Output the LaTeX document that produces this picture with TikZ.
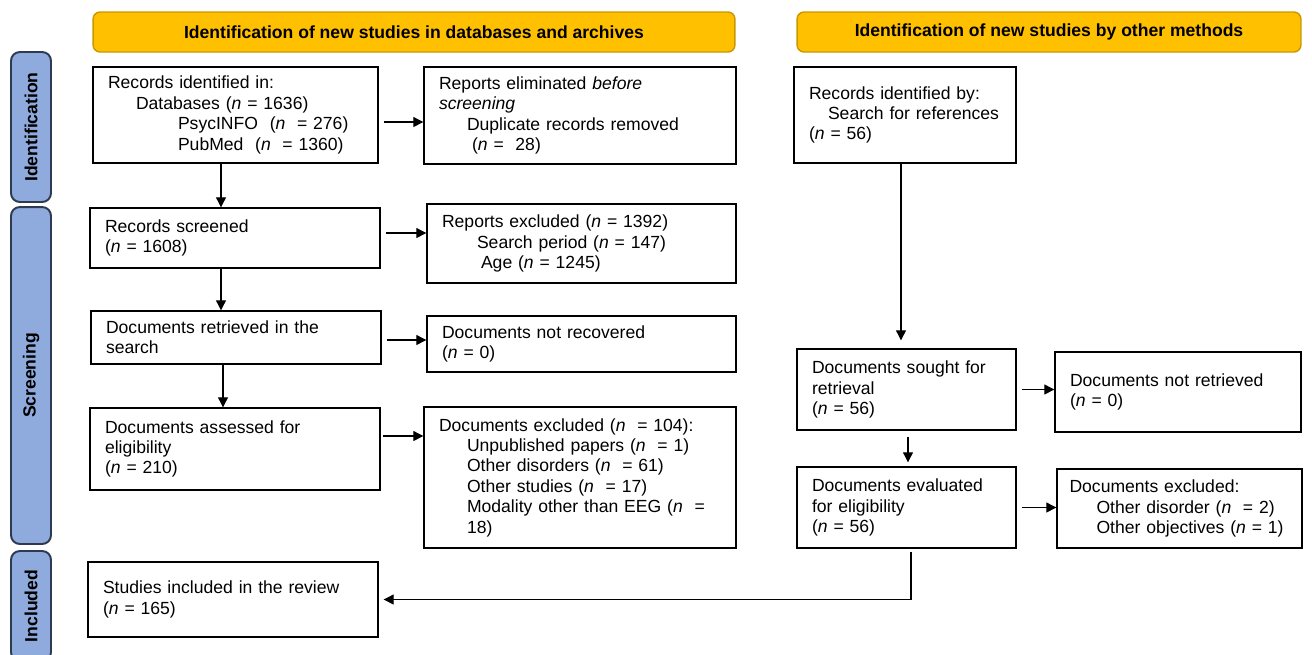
\documentclass[tikz,border=0pt]{standalone}
\usepackage{fontspec}
\setmainfont{Liberation Sans}
\usetikzlibrary{arrows.meta}

\definecolor{hdrfill}{HTML}{FFC000}
\definecolor{hdrline}{HTML}{C99700}
\definecolor{barfill}{HTML}{8FAADC}
\definecolor{barline}{HTML}{2E3A50}

\tikzset{
  box/.style={draw, line width=0.8pt, align=left, inner xsep=0.3cm, inner ysep=0pt,
              font=\fontsize{10}{11.6}\selectfont},
  header/.style={draw=hdrline, fill=hdrfill, line width=0.8pt, rounded corners=4pt,
                 minimum height=0.8cm, font=\bfseries\fontsize{10}{12}\selectfont},
  phase/.style={draw=barline, fill=barfill, line width=1.1pt, rounded corners=5pt,
                rotate=90, minimum height=0.8cm, font=\bfseries\fontsize{10}{12}\selectfont},
  arr/.style={-{Triangle[length=2mm,width=2mm]}, line width=0.6pt},
}

\begin{document}
\begin{tikzpicture}[x=0.02cm,y=-0.02cm]

\clip (0,0) rectangle (1312,654);

%% Column headers
\node[header, minimum width=12.84cm] (hdb) at (414,32) {Identification of new studies in databases and archives};
\node[header, minimum width=10.08cm] (hot) at (1049,32) {Identification of new studies by other methods};

%% Phase bars
\node[phase, minimum width=3cm]    (pid) at (31,127)   {Identification};
\node[phase, minimum width=6.74cm] (psc) at (31,375.5) {Screening};
\node[phase, minimum width=2.2cm]  (pin) at (31,606)   {Included};

%% Databases column
\node[box, text width=5.1cm, minimum height=1.92cm] (rec) at (235.5,115) {Records identified in:\\
  \hspace*{0.56cm}Databases (\textit{n} = 1636)\\
  \hspace*{1.4cm}PsycINFO~ (\textit{n}~ = 276)\\
  \hspace*{1.4cm}PubMed~ (\textit{n}~ = 1360)};
\node[box, text width=5.64cm, minimum height=1.94cm] (rep) at (580,115.5) {Reports eliminated \textit{before}\\
  \textit{screening}\\
  \hspace*{0.56cm}Duplicate records removed\\
  \hspace*{0.66cm}(\textit{n} =~ 28)};

\node[box, text width=5.2cm, minimum height=1.2cm] (scr) at (235,238) {Records screened\\(\textit{n} = 1608)};
\node[box, text width=5.58cm, minimum height=1.58cm] (rex) at (581.5,243.5) {Reports excluded (\textit{n} = 1392)\\
  \hspace*{0.7cm}Search period (\textit{n} = 147)\\
  \hspace*{0.78cm}Age (\textit{n} = 1245)};

\node[box, text width=5.2cm, minimum height=1.06cm] (ret) at (236,337.5) {Documents retrieved in the\\search};
\node[box, text width=5.58cm, minimum height=1.12cm] (nrc) at (581.5,344) {Documents not recovered\\(\textit{n} = 0)};

\node[box, text width=5.2cm, minimum height=1.64cm] (ass) at (235,449) {Documents assessed for\\eligibility\\(\textit{n} = 210)};
\node[box, text width=5.64cm, minimum height=2.82cm] (dex) at (580,477.5) {Documents excluded (\textit{n}~ = 104):\\
  \hspace*{0.56cm}Unpublished papers (\textit{n}~ = 1)\\
  \hspace*{0.56cm}Other disorders (\textit{n}~ = 61)\\
  \hspace*{0.56cm}Other studies (\textit{n}~ = 17)\\
  \hspace*{0.56cm}Modality other than EEG (\textit{n}~ =\\
  \hspace*{0.56cm}18)};

\node[box, text width=5.2cm, minimum height=1.5cm] (inc) at (233,599.5) {Studies included in the review\\(\textit{n} = 165)};

%% Other methods column
\node[box, text width=3.84cm, minimum height=1.92cm] (ref) at (905,115) {Records identified by:\\
  \hspace*{0.38cm}Search for references\\(\textit{n} = 56)};
\node[box, text width=3.78cm, minimum height=1.62cm] (sgt) at (906.5,389.5) {Documents sought for\\retrieval\\(\textit{n} = 56)};
\node[box, text width=4.32cm, minimum height=1.6cm] (nrt) at (1178,392) {Documents not retrieved\\(\textit{n} = 0)};
\node[box, text width=3.78cm, minimum height=1.62cm] (eva) at (906.5,507.5) {Documents evaluated\\for eligibility\\(\textit{n} = 56)};
\node[box, text width=4.4cm, inner xsep=0.25cm, minimum height=1.58cm] (oex) at (1179.5,508.5) {Documents excluded:\\
  \hspace*{0.54cm}Other disorder (\textit{n}~ = 2)\\
  \hspace*{0.54cm}Other objectives (\textit{n} = 1)};

%% Down arrows, left column
\draw[arr] ([xshift=-0.29cm]rec.south) -- ([xshift=-0.29cm]rec.south |- scr.north);
\draw[arr] ([xshift=-0.28cm]scr.south) -- ([xshift=-0.28cm]scr.south |- ret.north);
\draw[arr] ([xshift=-0.26cm]ret.south) -- ([xshift=-0.26cm]ret.south |- ass.north);

%% Side arrows, left column
\coordinate (a1) at ([yshift=-0.14cm]rec.east);
\coordinate (a2) at ([yshift=0.1cm]scr.east);
\coordinate (a3) at ([yshift=-0.05cm]ret.east);
\coordinate (a4) at ([yshift=0.26cm]ass.east);
\draw[arr, shorten <=0.1cm] (a1) -- (a1 -| rep.west);
\draw[arr, shorten <=0.1cm] (a2) -- (a2 -| rex.west);
\draw[arr, shorten <=0.1cm] (a3) -- (a3 -| nrc.west);
\draw[arr, shorten <=0.04cm] (a4) -- (a4 -| dex.west);

%% Other methods arrows
\draw[arr, shorten >=0.16cm] ([xshift=-0.08cm]ref.south) -- ([xshift=-0.08cm]ref.south |- sgt.north);
\draw[arr, shorten <=0.12cm, shorten >=0.08cm] ([xshift=0.03cm]sgt.south) -- ([xshift=0.03cm]sgt.south |- eva.north);
\draw[arr, shorten <=0.1cm] (sgt.east) -- (sgt.east -| nrt.west);
\draw[arr, shorten <=0.1cm] (eva.east) -- (eva.east -| oex.west);

%% Into the review
\draw[arr, shorten <=0.06cm, shorten >=0.1cm] ([xshift=0.09cm]eva.south) |- (inc.east);

\end{tikzpicture}
\end{document}
